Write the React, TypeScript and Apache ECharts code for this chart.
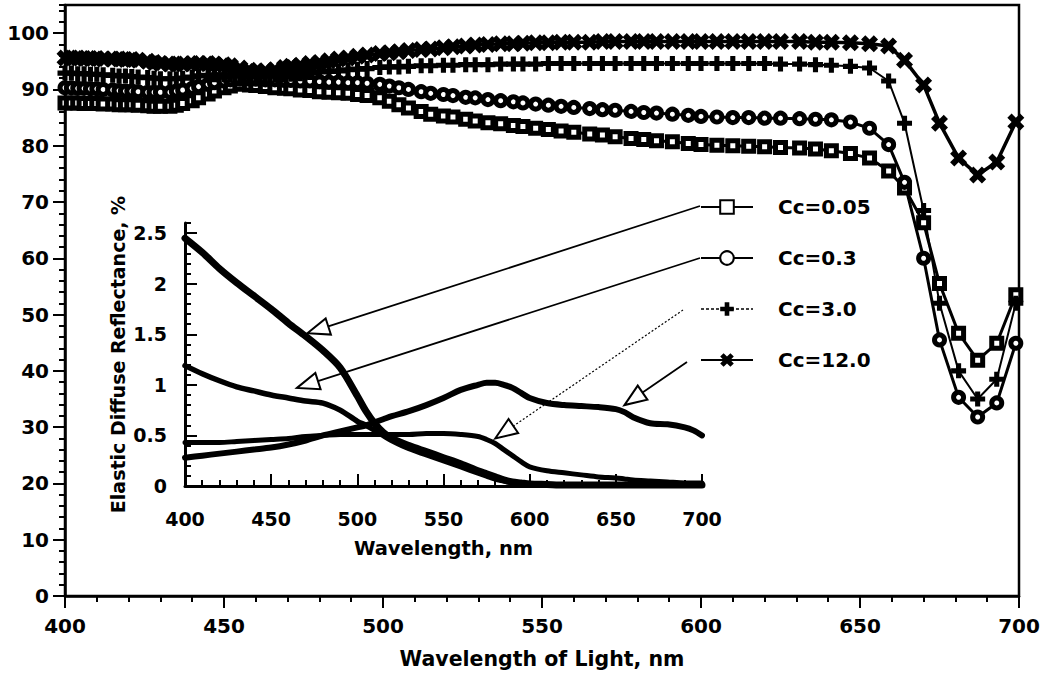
import { useEffect, useRef } from 'react';
import * as echarts from 'echarts';

// ---- Main spectra: reflectance (%) vs wavelength (nm) ----
const wavelengths = [
  400, 402, 404, 406, 408, 410, 412, 415, 417, 419,
  421, 423, 426, 428, 430, 433, 435, 437, 440, 442,
  445, 447, 450, 452, 455, 458, 460, 463, 466, 469,
  471, 474, 477, 480, 483, 486, 489, 492, 495, 499,
  502, 505, 508, 512, 515, 519, 522, 526, 529, 533,
  537, 541, 544, 548, 552, 556, 560, 565, 569, 573,
  578, 582, 586, 591, 596, 600, 605, 610, 615, 620,
  625, 631, 636, 641, 647, 653, 659, 664, 670, 675,
  681, 687, 693, 699,
];

const cc005 = [
  87.6, 87.6, 87.6, 87.5, 87.5, 87.5, 87.4, 87.4, 87.3, 87.3,
  87.3, 87.2, 87.1, 87.0, 87.0, 87.0, 87.2, 87.5, 88.0, 88.5,
  89.2, 89.7, 90.3, 90.6, 90.9, 90.8, 90.7, 90.5, 90.3, 90.2,
  90.1, 89.9, 89.8, 89.6, 89.5, 89.4, 89.3, 89.1, 88.9, 88.5,
  87.9, 87.3, 86.7, 86.1, 85.6, 85.3, 85.1, 84.7, 84.4, 84.1,
  83.9, 83.6, 83.4, 83.1, 82.9, 82.6, 82.4, 82.1, 81.9, 81.6,
  81.3, 81.1, 80.9, 80.7, 80.4, 80.2, 80.1, 80.0, 79.9, 79.8,
  79.7, 79.6, 79.4, 79.1, 78.6, 77.8, 75.5, 72.5, 66.3, 55.5,
  46.7, 41.9, 44.9, 53.5,
];

const cc03 = [
  90.3, 90.3, 90.2, 90.2, 90.1, 90.1, 90.0, 89.9, 89.8, 89.7,
  89.7, 89.6, 89.5, 89.5, 89.5, 89.5, 89.7, 89.9, 90.2, 90.5,
  90.9, 91.2, 91.5, 91.7, 91.8, 91.8, 91.8, 91.7, 91.7, 91.6,
  91.6, 91.5, 91.5, 91.4, 91.3, 91.3, 91.2, 91.2, 91.1, 90.9,
  90.6, 90.3, 90.0, 89.6, 89.3, 89.1, 88.9, 88.6, 88.5, 88.2,
  88.0, 87.8, 87.6, 87.4, 87.2, 87.0, 86.8, 86.6, 86.4, 86.3,
  86.1, 85.9, 85.8, 85.6, 85.4, 85.2, 85.1, 85.0, 85.0, 84.9,
  84.9, 84.8, 84.7, 84.6, 84.2, 83.1, 80.2, 73.5, 60.0, 45.5,
  35.3, 31.8, 34.3, 44.9,
];

const cc3 = [
  92.9, 92.9, 92.8, 92.8, 92.7, 92.7, 92.6, 92.5, 92.4, 92.4,
  92.3, 92.2, 92.1, 92.0, 91.9, 91.9, 91.9, 92.0, 92.2, 92.4,
  92.5, 92.6, 92.6, 92.5, 92.4, 92.3, 92.3, 92.4, 92.5, 92.6,
  92.7, 92.8, 93.0, 93.1, 93.2, 93.3, 93.5, 93.6, 93.7, 93.9,
  94.0, 94.0, 94.1, 94.2, 94.2, 94.3, 94.3, 94.4, 94.4, 94.4,
  94.5, 94.5, 94.5, 94.5, 94.6, 94.6, 94.6, 94.6, 94.6, 94.6,
  94.6, 94.6, 94.6, 94.6, 94.6, 94.6, 94.6, 94.6, 94.6, 94.6,
  94.5, 94.5, 94.4, 94.3, 94.1, 93.8, 91.5, 84.0, 68.5, 52.0,
  40.0, 35.0, 38.5, 52.0,
];

const cc12 = [
  95.6, 95.6, 95.6, 95.5, 95.5, 95.5, 95.4, 95.4, 95.4, 95.3,
  95.3, 95.2, 95.0, 94.8, 94.6, 94.5, 94.5, 94.5, 94.6, 94.6,
  94.6, 94.5, 94.4, 94.2, 93.8, 93.4, 93.2, 93.3, 93.5, 93.9,
  94.1, 94.3, 94.6, 94.8, 95.1, 95.4, 95.6, 95.9, 96.1, 96.4,
  96.5, 96.7, 96.9, 97.1, 97.2, 97.4, 97.6, 97.7, 97.9, 98.0,
  98.1, 98.1, 98.2, 98.3, 98.3, 98.4, 98.4, 98.4, 98.5, 98.5,
  98.5, 98.5, 98.5, 98.5, 98.5, 98.5, 98.5, 98.5, 98.5, 98.5,
  98.5, 98.5, 98.4, 98.4, 98.3, 98.1, 97.7, 95.2, 90.8, 84.0,
  77.8, 74.8, 77.1, 84.2,
];

// ---- Inset: elastic diffuse reflectance (%) ----
const insetWavelengths = [
  400, 410, 420, 430, 440, 450, 460, 470, 480, 490, 500,
  505, 510, 515, 520,
  530, 540, 550, 560, 570,
  575, 580, 585, 590, 595, 600,
  610, 620, 630, 640, 650,
  655, 660,
  670, 680, 690, 695, 700,
];

const insetCc005 = [
  2.45, 2.31, 2.15, 2.01, 1.88, 1.75, 1.61, 1.48, 1.34, 1.17, 0.89,
  0.74, 0.62, 0.53, 0.47,
  0.40, 0.34, 0.28, 0.22, 0.15,
  0.12, 0.09, 0.06, 0.04, 0.03, 0.02,
  0.015, 0.01, 0.01, 0.01, 0.01,
  0.01, 0.01,
  0.01, 0.01, 0.01, 0.01, 0.01,
];

const insetCc03 = [
  1.19, 1.11, 1.04, 0.98, 0.94, 0.90, 0.87, 0.84, 0.82, 0.75, 0.64,
  0.60, 0.55, 0.50, 0.45,
  0.37, 0.31, 0.25, 0.19, 0.13,
  0.10, 0.07, 0.05, 0.03, 0.02, 0.015,
  0.01, 0.01, 0.01, 0.01, 0.01,
  0.01, 0.01,
  0.01, 0.01, 0.01, 0.01, 0.01,
];

const insetCc3 = [
  0.43, 0.43, 0.43, 0.44, 0.45, 0.46, 0.47, 0.49, 0.50, 0.51, 0.51,
  0.51, 0.51, 0.51, 0.51,
  0.51, 0.52, 0.52, 0.51, 0.49,
  0.46, 0.42, 0.36, 0.30, 0.24, 0.19,
  0.15, 0.13, 0.11, 0.09, 0.08,
  0.07, 0.06,
  0.05, 0.04, 0.03, 0.03, 0.03,
];

const insetCc12 = [
  0.28, 0.30, 0.32, 0.34, 0.36, 0.38, 0.41, 0.45, 0.50, 0.54, 0.58,
  0.60, 0.63, 0.66, 0.69,
  0.74, 0.80, 0.87, 0.95, 1.00,
  1.02, 1.02, 1.00, 0.97, 0.92, 0.87,
  0.82, 0.80, 0.79, 0.78, 0.76,
  0.73, 0.68,
  0.62, 0.61, 0.58, 0.55, 0.50,
];

const seriesNames = ['Cc=0.05', 'Cc=0.3', 'Cc=3.0', 'Cc=12.0'];

const mainYTicks = [0, 10, 20, 30, 40, 50, 60, 70, 80, 90, 100];
const insetYTicks = [0, 0.5, 1, 1.5, 2, 2.5];

const FONT = 'DejaVu Sans';
const PLUS = 'path://M3.3,0h3.4v3.3h3.3v3.4h-3.3v3.3h-3.4v-3.3h-3.3v-3.4h3.3z';
const CROSS = 'path://M0,2.5L2.5,0L5,2.5L7.5,0L10,2.5L7.5,5L10,7.5L7.5,10L5,7.5L2.5,10L0,7.5L2.5,5Z';

const pairs = (xs: number[], ys: number[]) => xs.map((x, i) => [x, ys[i]]);

export default function App() {
  const ref = useRef<HTMLDivElement>(null);

  useEffect(() => {
    const el = ref.current;
    if (!el) return;
    const chart = echarts.init(el, undefined, { renderer: 'svg' });

    const text = { fontFamily: FONT, fontWeight: 'bold' as const, color: '#000' };
    const black = { color: '#000', width: 2 };

    const mainLine = (
      name: string,
      ys: number[],
      symbol: string,
      symbolSize: number,
      hollow: boolean,
      width: number,
    ) => ({
      name,
      type: 'line',
      xAxisIndex: 0,
      yAxisIndex: 0,
      data: pairs(wavelengths, ys),
      symbol,
      symbolSize,
      showAllSymbol: true,
      itemStyle: hollow
        ? { color: '#fff', borderColor: '#000', borderWidth: 5 }
        : { color: '#000', borderWidth: 0 },
      lineStyle: { color: '#000', width },
      emphasis: { disabled: true },
      z: 3,
    });

    const insetLine = (name: string, ys: number[], width: number) => ({
      name,
      type: 'line',
      xAxisIndex: 1,
      yAxisIndex: 2,
      data: pairs(insetWavelengths, ys),
      symbol: 'none',
      smooth: 0.3,
      lineStyle: { color: '#000', width, cap: 'round', join: 'round' },
      emphasis: { disabled: true },
      z: 3,
    });

    const option = {
      animation: false,
      backgroundColor: '#fff',
      textStyle: { fontFamily: FONT },
      grid: [
        { left: 65, top: 5, width: 954, height: 591, show: true, borderColor: '#000', borderWidth: 2.5, backgroundColor: 'transparent' },
        { left: 185, top: 223, width: 517, height: 263 },
      ],
      legend: {
        orient: 'vertical',
        left: 700,
        top: 197,
        padding: 0,
        itemGap: 31,
        itemWidth: 52,
        itemHeight: 17,
        selectedMode: false,
        textStyle: { ...text, fontSize: 20, lineHeight: 20, padding: [0, 0, 0, 20] },
        data: [
          { name: seriesNames[0] },
          { name: seriesNames[1] },
          { name: seriesNames[2], lineStyle: { type: [3, 2], width: 1.5 } },
          { name: seriesNames[3] },
        ],
      },
      xAxis: [
        {
          gridIndex: 0,
          type: 'value',
          min: 400,
          max: 700,
          interval: 50,
          position: 'bottom',
          axisLine: { show: true, onZero: false, lineStyle: { color: '#000', width: 2.5 } },
          axisTick: { show: true, inside: false, length: 12, lineStyle: black },
          minorTick: { show: true, splitNumber: 5, length: 6, lineStyle: black },
          splitLine: { show: false },
          minorSplitLine: { show: false },
          axisLabel: { ...text, fontSize: 20, margin: 20 },
          name: 'Wavelength of Light, nm',
          nameLocation: 'middle',
          nameGap: 52,
          nameTextStyle: { ...text, fontSize: 20.5 },
        },
        {
          gridIndex: 1,
          type: 'value',
          min: 400,
          max: 700,
          interval: 50,
          position: 'bottom',
          axisLine: { show: true, onZero: false, lineStyle: { color: '#000', width: 3 } },
          axisTick: { show: true, inside: true, length: 12, lineStyle: black },
          minorTick: { show: true, splitNumber: 5, length: 6, lineStyle: black },
          splitLine: { show: false },
          minorSplitLine: { show: false },
          axisLabel: { ...text, fontSize: 19, margin: 23 },
          name: 'Wavelength, nm',
          nameLocation: 'middle',
          nameGap: 52,
          nameTextStyle: { ...text, fontSize: 19.5 },
        },
      ],
      yAxis: [
        {
          gridIndex: 0,
          type: 'value',
          min: 0,
          max: 105,
          interval: 10,
          position: 'left',
          axisLine: { show: true, onZero: false, lineStyle: { color: '#000', width: 2.5 } },
          axisTick: { show: true, inside: false, length: 12, lineStyle: black, customValues: mainYTicks },
          splitLine: { show: false },
          axisLabel: {
            ...text,
            fontSize: 20,
            margin: 16,
            customValues: mainYTicks,
            formatter: (v: number) => (v > 100 ? '' : String(v)),
          },
        },
        {
          gridIndex: 0,
          type: 'value',
          min: 0,
          max: 105,
          interval: 2,
          position: 'left',
          axisLine: { show: false },
          axisTick: { show: true, inside: false, length: 6, lineStyle: black },
          axisLabel: { show: false },
          splitLine: { show: false },
        },
        {
          gridIndex: 1,
          type: 'value',
          min: 0,
          max: 2.6,
          interval: 0.5,
          position: 'left',
          axisLine: { show: true, onZero: false, lineStyle: { color: '#000', width: 3 } },
          axisTick: { show: true, inside: true, length: 12, lineStyle: black, customValues: insetYTicks },
          splitLine: { show: false },
          axisLabel: {
            ...text,
            fontSize: 19,
            margin: 18,
            customValues: insetYTicks,
            formatter: (v: number) => (v > 2.5 ? '' : String(v)),
          },
          name: 'Elastic Diffuse Reflectance, %',
          nameLocation: 'middle',
          nameGap: 58,
          nameTextStyle: { ...text, fontSize: 19 },
        },
        {
          gridIndex: 1,
          type: 'value',
          min: 0,
          max: 2.6,
          interval: 0.1,
          position: 'left',
          axisLine: { show: false },
          axisTick: { show: true, inside: true, length: 6, lineStyle: black },
          axisLabel: { show: false },
          splitLine: { show: false },
        },
      ],
      series: [
        mainLine(seriesNames[0], cc005, 'rect', 10, true, 3),
        mainLine(seriesNames[1], cc03, 'circle', 10, true, 3),
        mainLine(seriesNames[2], cc3, PLUS, 15, false, 2),
        mainLine(seriesNames[3], cc12, CROSS, 17, false, 3.5),
        insetLine('inset ' + seriesNames[0], insetCc005, 7),
        insetLine('inset ' + seriesNames[1], insetCc03, 5.5),
        insetLine('inset ' + seriesNames[2], insetCc3, 5),
        insetLine('inset ' + seriesNames[3], insetCc12, 6),
      ],
    };

    chart.setOption(option as any);

    // Pointer arrows from each legend entry to its inset curve (hollow heads).
    const pointers: { from: number[]; tip: number[]; dotted: boolean }[] = [
      { from: [700, 206], tip: [471, 1.51], dotted: false },
      { from: [700, 258], tip: [465, 0.97], dotted: false },
      { from: [683, 310], tip: [580, 0.47], dotted: true },
      { from: [687, 362], tip: [655, 0.8], dotted: false },
    ];

    const graphics: any[] = [];
    pointers.forEach((p) => {
      const t = chart.convertToPixel({ seriesIndex: 4 }, p.tip) as number[];
      const dx = t[0] - p.from[0];
      const dy = t[1] - p.from[1];
      const len = Math.hypot(dx, dy);
      const ux = dx / len;
      const uy = dy / len;
      const L = 22;
      const W = 17;
      const bx = t[0] - ux * L;
      const by = t[1] - uy * L;
      const nx = -uy;
      const ny = ux;
      graphics.push({
        type: 'line',
        shape: { x1: p.from[0], y1: p.from[1], x2: bx, y2: by },
        style: { stroke: '#000', lineWidth: p.dotted ? 1.2 : 1.8, lineDash: p.dotted ? [2, 2] : null },
        z: 10,
      });
      graphics.push({
        type: 'polygon',
        shape: {
          points: [
            [t[0], t[1]],
            [bx + (nx * W) / 2, by + (ny * W) / 2],
            [bx - (nx * W) / 2, by - (ny * W) / 2],
          ],
        },
        style: { fill: '#fff', stroke: '#000', lineWidth: 2 },
        z: 11,
      });
    });
    chart.setOption({ graphic: graphics });

    return () => chart.dispose();
  }, []);

  return (
    <div
      ref={ref}
      style={{ position: 'fixed', left: 0, top: 0, width: 1044, height: 688, background: '#fff' }}
    />
  );
}
